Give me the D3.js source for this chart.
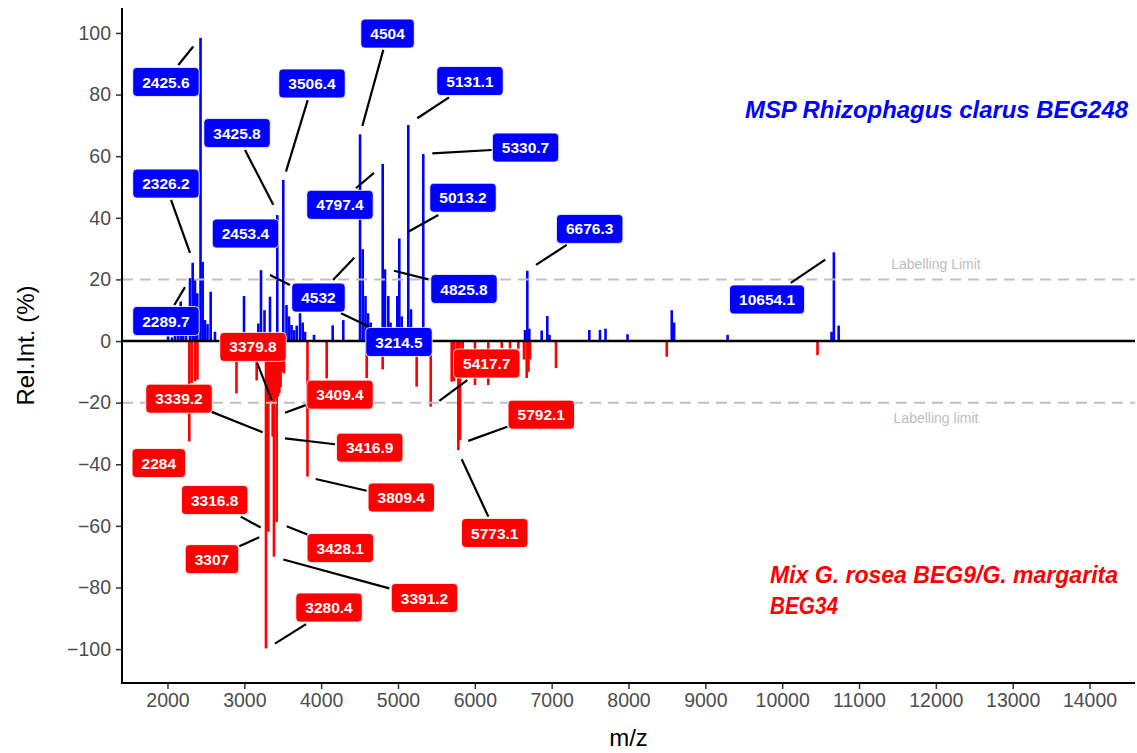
<!DOCTYPE html>
<html><head><meta charset="utf-8">
<script src="https://cdn.jsdelivr.net/npm/d3@7"></script>
<style>
body{margin:0;background:#fff}
text{font-family:"Liberation Sans",Arial,Helvetica,sans-serif}
</style>
</head><body>
<svg id="chart" width="1137" height="753"></svg>
<script>
// ---------- DATA ----------
const blueMz  = [2007,2059,2098,2137,2172,2202,2241,2293,2328,2358,2388,2430,2458,2488,2521,2562,2618,2996,3182,3217,3263,3334,3429,3507,3549,3581,3614,3647,3682,3725,3760,3790,3907,4150,4288,4506,4541,4577,4610,4645,4801,4831,4874,4903,4991,5017,5048,5134,5169,5329,6653,6683,6709,6870,6943,6972,7490,7629,7701,7987,8563,8593,9290,10643,10673,10735];
const blueInt = [1.5,1.2,2,3,12.8,5,5,20.4,25.4,19.8,15.5,98.4,25.7,6.8,5.5,16,3,14.6,5.7,23,10,14.4,40.9,52.3,11.7,8,5.2,3.5,5,9,6,3,2,5.1,6.8,67.1,29.8,14.6,9,6,57.5,23.3,14.6,6,14.6,33.3,8,70.1,10.3,60.7,3.6,22.8,4,3.4,8.1,2,3.6,3.6,4,2.2,10,6,2,3,28.8,5];
const redMz   = [2284,2315,2358,2390,2898,3161,3282,3295,3312,3326,3341,3355,3369,3386,3403,3421,3438,3455,3472,3490,3516,3822,4072,4593,4801,5243,5426,5699,5729,5764,5785,5807,5842,6002,6175,6350,6458,6566,6640,6675,6698,6718,7057,8498,10460];
const redInt  = [-32.6,-13.6,-13,-12.5,-17,-12.8,-99.8,-12,-61.9,-20,-19.5,-19,-31,-70,-18.5,-58.7,-18,-17,-15,-10,-10.5,-44,-12.1,-12,-9.2,-14.8,-21.3,-13.2,-13,-12,-35.4,-32.1,-8,-14.3,-14.3,-2.2,-2.5,-2.5,-6,-12,-10,-6,-8.8,-5.1,-4.6];
const xTicks = [2000,3000,4000,5000,6000,7000,8000,9000,10000,11000,12000,13000,14000];
const yTicks = [-100,-80,-60,-40,-20,0,20,40,60,80,100];
const labelLimit = 20;
const blueLabels = ["2425.6","2326.2","2289.7","3425.8","3506.4","4504","2453.4","4797.4","4532","3214.5","5131.1","5330.7","5013.2","4825.8","6676.3","10654.1"];
const redLabels  = ["3379.8","3339.2","3409.4","3416.9","2284","3809.4","3316.8","3428.1","3307","3391.2","3280.4","5417.7","5792.1","5773.1"];
const blueTitle = "MSP Rhizophagus clarus BEG248";
const redTitle  = ["Mix G. rosea BEG9/G. margarita","BEG34"];

// ---------- LABEL LAYOUT (repelled positions, in data units: [boxMz, boxInt, segMz1, segInt1, segMz2, segInt2]) ----------
const blueLayout = [
 [1980,84.1,2141,89.6,2336,95.6],
 [1980,51.1,2046,45.8,2293,28.6],
 [1980,6.5,2089,11.7,2228,17.5],
 [2905,67.5,3009,62.0,3377,44.2],
 [3881,83.6,3825,78.2,3542,55.0],
 [4864,99.8,4809,94.5,4536,69.8],
 [3015,34.9,3334,21.4,3594,18.2],
 [4245,44.2,4453,49.6,4687,54.6],
 [3965,14.1,4154,19.8,4431,27.0],
 [5013,-0.3,4627,4.6,4258,9.0],
 [5937,84.4,5664,79.1,5251,72.3],
 [6660,62.8,6220,62.0,5447,60.9],
 [5846,46.5,5525,40.9,5134,35.5],
 [5859,16.9,5395,20.0,4948,22.8],
 [7495,36.4,7196,31.2,6796,24.7],
 [9803,13.5,10112,18.9,10561,26.4]
];
const redLayout = [
 [3113,-1.9,3169,-7.2,3356,-19.2],
 [2150,-18.7,2575,-23.0,3239,-29.6],
 [4245,-17.4,3799,-20.8,3529,-23.3],
 [4632,-34.6,4180,-33.5,3529,-31.6],
 [1887,-39.6,null,null,null,null],
 [5043,-50.8,4593,-48.6,3929,-44.8],
 [2614,-51.6,2953,-57.0,3213,-60.5],
 [4249,-67.2,3820,-62.8,3552,-60.1],
 [2579,-70.8,2935,-66.6,3195,-63.7],
 [5345,-83.4,4887,-80.3,3507,-70.9],
 [4102,-86.5,3803,-91.9,3399,-98.2],
 [6155,-7.3,5902,-12.7,5538,-19.4],
 [6865,-23.9,6423,-27.8,5915,-32.4],
 [6259,-62.3,6176,-57.0,5829,-38.4]
];

// ---------- DRAW ----------
(function(){
const svg = d3.select("#chart");
const pL = 122, pR = 1135, pT = 8, pB = 683;
const x = d3.scaleLinear().domain([1408, 14592]).range([pL, pR]);
const y = d3.scaleLinear().domain([-111.0, 108.1]).range([pB, pT]);
const BLUE = "#0000ff", RED = "#ff0000";
const barW = 2.6;

const blueData = blueMz.map((m,i)=>({m, v: blueInt[i]}));
const redData  = redMz.map((m,i)=>({m, v: redInt[i]}));

svg.append("g").selectAll("rect").data(blueData).join("rect")
  .attr("x", d=>x(d.m)-barW/2).attr("width", barW)
  .attr("y", d=>y(d.v)).attr("height", d=>y(0)-y(d.v))
  .attr("fill", BLUE);
svg.append("g").selectAll("rect").data(redData).join("rect")
  .attr("x", d=>x(d.m)-barW/2).attr("width", barW)
  .attr("y", y(0)).attr("height", d=>y(d.v)-y(0))
  .attr("fill", RED);

// labelling limits
[labelLimit, -labelLimit].forEach(v=>{
  svg.append("line").attr("x1", pL).attr("x2", pR).attr("y1", y(v)).attr("y2", y(v))
    .attr("stroke", "#c0c0c0").attr("stroke-width", 2).attr("stroke-dasharray", "11,7");
});
svg.append("text").attr("x", 936).attr("y", y(labelLimit)-10).attr("text-anchor","middle")
  .attr("font-size", 14).attr("fill", "#bdbdbd").text("Labelling Limit");
svg.append("text").attr("x", 936).attr("y", y(-labelLimit)+20).attr("text-anchor","middle")
  .attr("font-size", 14).attr("fill", "#bdbdbd").text("Labelling limit");

// zero line
svg.append("line").attr("x1", pL).attr("x2", pR).attr("y1", y(0)).attr("y2", y(0))
  .attr("stroke", "#000").attr("stroke-width", 2.4);

// axes
const xAxis = svg.append("g").attr("transform", `translate(0,${pB})`)
  .call(d3.axisBottom(x).tickValues(xTicks).tickFormat(d3.format("d")).tickSizeOuter(0).tickSize(6).tickPadding(4));
const yAxis = svg.append("g").attr("transform", `translate(${pL},0)`)
  .call(d3.axisLeft(y).tickValues(yTicks).tickFormat(d3.format("d")).tickSizeOuter(0).tickSize(6).tickPadding(5));
[xAxis, yAxis].forEach(g=>{
  g.select(".domain").remove();
  g.selectAll(".tick line").attr("stroke", "#333").attr("stroke-width", 1.5);
  g.selectAll(".tick text").attr("font-size", 19.5).attr("fill", "#4d4d4d")
    .attr("font-family", '"Liberation Sans",Arial,sans-serif');
});
svg.append("line").attr("x1", pL).attr("x2", pL).attr("y1", pT).attr("y2", pB+1)
  .attr("stroke", "#000").attr("stroke-width", 2);
svg.append("line").attr("x1", pL-1).attr("x2", pR).attr("y1", pB).attr("y2", pB)
  .attr("stroke", "#000").attr("stroke-width", 2);

svg.append("text").attr("x", (pL+pR)/2).attr("y", 746).attr("text-anchor","middle")
  .attr("font-size", 24).attr("fill","#000").text("m/z");
svg.append("text").attr("transform", `translate(34,${(pT+pB)/2}) rotate(-90)`)
  .attr("text-anchor","middle").attr("font-size", 24).attr("fill","#000").text("Rel.Int. (%)");

// labels
function drawLabels(texts, layout, color){
  const g = svg.append("g");
  texts.forEach((t,i)=>{
    const L = layout[i];
    if (L[2] !== null) {
      g.append("line").attr("x1", x(L[2])).attr("y1", y(L[3])).attr("x2", x(L[4])).attr("y2", y(L[5]))
        .attr("stroke", "#000").attr("stroke-width", 2.2);
    }
  });
  texts.forEach((t,i)=>{
    const L = layout[i];
    const cx = x(L[0]), cy = y(L[1]);
    const lg = g.append("g");
    const rect = lg.append("rect");
    const tx = lg.append("text").attr("x", cx).attr("y", cy).attr("dy", "0.36em")
      .attr("text-anchor","middle").attr("font-size", 15.5).attr("font-weight","bold")
      .attr("fill", "#fff").text(t);
    const w = tx.node().getComputedTextLength() + 19, h = 29;
    rect.attr("x", cx-w/2).attr("y", cy-h/2).attr("width", w).attr("height", h)
      .attr("rx", 4).attr("fill", color).attr("stroke", "#fff").attr("stroke-width", 0.8);
  });
}
drawLabels(blueLabels, blueLayout, BLUE);
drawLabels(redLabels, redLayout, RED);

// series titles
svg.append("text").attr("x", 745).attr("y", 118).attr("font-size", 23)
  .attr("font-weight","bold").attr("font-style","italic").attr("fill", BLUE)
  .attr("textLength", 383).attr("lengthAdjust","spacingAndGlyphs").text(blueTitle);
svg.append("text").attr("x", 770).attr("y", 583).attr("font-size", 23)
  .attr("font-weight","bold").attr("font-style","italic").attr("fill", RED)
  .attr("textLength", 348).attr("lengthAdjust","spacingAndGlyphs").text(redTitle[0]);
svg.append("text").attr("x", 770).attr("y", 614).attr("font-size", 23)
  .attr("font-weight","bold").attr("font-style","italic").attr("fill", RED)
  .attr("textLength", 68).attr("lengthAdjust","spacingAndGlyphs").text(redTitle[1]);
})();
</script>
</body></html>
